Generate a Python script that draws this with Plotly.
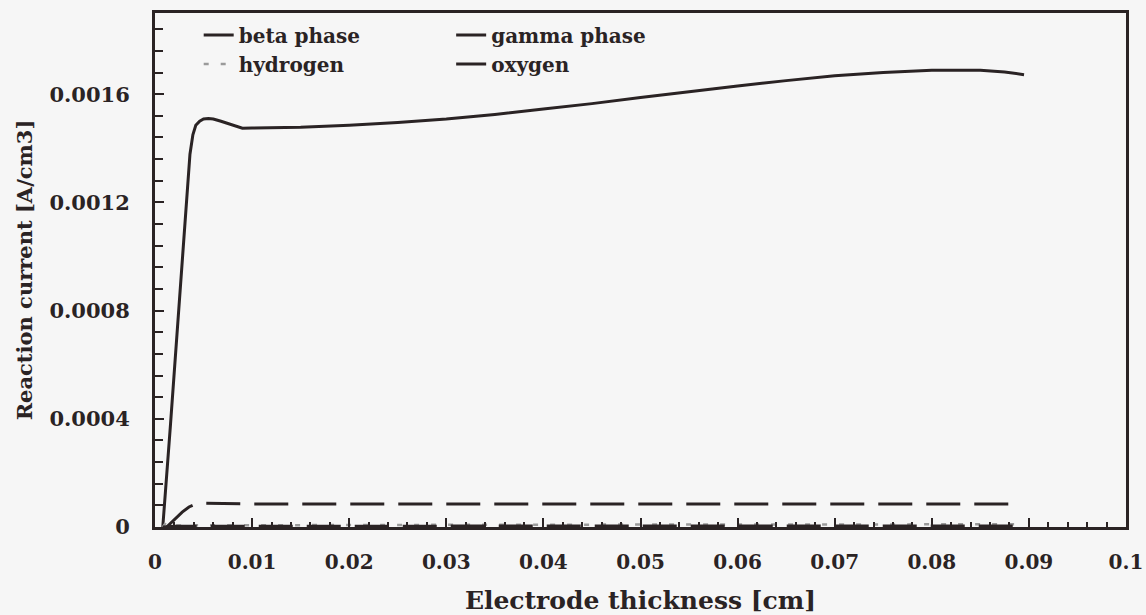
import plotly.graph_objects as go

# ---- data ----
beta_x = [0.0008, 0.0012, 0.0016, 0.0020, 0.0024, 0.0028, 0.0032, 0.0036, 0.0039, 0.0042,
          0.0046, 0.0050, 0.0055, 0.0060, 0.0068, 0.0076, 0.0084, 0.0090, 0.0100, 0.0150,
          0.0200, 0.0250, 0.0300, 0.0350, 0.0400, 0.0450, 0.0500, 0.0550, 0.0600, 0.0650,
          0.0700, 0.0750, 0.0800, 0.0850, 0.0875, 0.0895]
beta_y = [0.0, 0.000181, 0.000381, 0.000581, 0.000778, 0.000978, 0.001178, 0.001378, 0.00145, 0.001485,
          0.0015, 0.001508, 0.00151, 0.001508, 0.0015, 0.00149, 0.00148, 0.001474, 0.001475, 0.001478,
          0.001485, 0.001495, 0.001508, 0.001525, 0.001545, 0.001565, 0.001588, 0.00161, 0.00163, 0.00165,
          0.001668, 0.00168, 0.001688, 0.001688, 0.001682, 0.001672]

gamma_x = [0.0012, 0.0020, 0.0028, 0.0035, 0.0042, 0.0050, 0.0060, 0.0080, 0.0100, 0.0300, 0.0500, 0.0700, 0.0880]
gamma_y = [0.0, 0.000028, 0.000055, 0.000074, 0.000085, 0.000088, 0.000087, 0.000086, 0.000085, 0.000085, 0.000085, 0.000085, 0.000085]

hydrogen_x = [0.0008, 0.0012, 0.0016, 0.0020, 0.0030, 0.0100, 0.0300, 0.0500, 0.0700, 0.0895]
hydrogen_y = [0.0, 0.00002, 0.000012, 0.000006, 0.000006, 0.000007, 0.000008, 0.000009, 0.00001, 0.00001]

oxygen_x = [0.0008, 0.0020, 0.0100, 0.0500, 0.0895]
oxygen_y = [0.0, 0.000003, 0.000003, 0.000004, 0.000004]

x_tickvals = [0, 0.01, 0.02, 0.03, 0.04, 0.05, 0.06, 0.07, 0.08, 0.09, 0.1]
x_ticktext = ["0", "0.01", "0.02", "0.03", "0.04", "0.05", "0.06", "0.07", "0.08", "0.09", "0.1"]
y_tickvals = [0, 0.0004, 0.0008, 0.0012, 0.0016]
y_ticktext = ["0", "0.0004", "0.0008", "0.0012", "0.0016"]

# ---- styling ----
INK = "#2a2324"
BG = "#f6f6f6"
FONT = "DejaVu Serif"

fig = go.Figure()
fig.add_trace(go.Scatter(x=beta_x, y=beta_y, mode="lines", name="beta phase",
                         line=dict(color=INK, width=3), legend="legend"))
fig.add_trace(go.Scatter(x=hydrogen_x, y=hydrogen_y, mode="lines", name="hydrogen",
                         line=dict(color="#9a9a9a", width=2.5, dash="5px,12px"), legend="legend"))
fig.add_trace(go.Scatter(x=gamma_x, y=gamma_y, mode="lines", name="gamma phase",
                         line=dict(color=INK, width=3, dash="34px,14px"), legend="legend2"))
fig.add_trace(go.Scatter(x=oxygen_x, y=oxygen_y, mode="lines", name="oxygen",
                         line=dict(color=INK, width=3, dash="34px,14px"), legend="legend2"))

legend_common = dict(
    yanchor="top", y=0.995, xanchor="left",
    bgcolor="rgba(0,0,0,0)", borderwidth=0,
    font=dict(family=FONT, size=20, color=INK, weight="bold"),
    tracegroupgap=0, itemwidth=30,
)

fig.update_layout(
    width=1146, height=615,
    margin=dict(l=155, r=20, t=13, b=88),
    paper_bgcolor=BG, plot_bgcolor=BG,
    font=dict(family=FONT, color=INK, weight="bold"),
    showlegend=True,
    legend=dict(x=0.045, **legend_common),
    legend2=dict(x=0.305, **legend_common),
    xaxis=dict(
        range=[0, 0.1000001], tickvals=x_tickvals, ticktext=x_ticktext,
        ticks="inside", ticklen=9, tickwidth=2, tickcolor=INK,
        minor=dict(dtick=0.002, tick0=0, ticks="inside", ticklen=5, tickwidth=2, tickcolor=INK),
        showline=True, linecolor=INK, linewidth=3, mirror=True,
        showgrid=False, zeroline=False, automargin=False,
        ticklabeloverflow="allow",
        tickfont=dict(family=FONT, size=20, color=INK, weight="bold"),
        ticklabelstandoff=15,
        title=dict(text="Electrode thickness [cm]", standoff=21,
                   font=dict(family=FONT, size=25, color=INK, weight="bold")),
    ),
    yaxis=dict(
        range=[0, 0.0019], tickvals=y_tickvals, ticktext=y_ticktext,
        ticks="inside", ticklen=9, tickwidth=2, tickcolor=INK,
        minor=dict(dtick=0.00008, tick0=0, ticks="inside", ticklen=8, tickwidth=2, tickcolor=INK),
        showline=True, linecolor=INK, linewidth=3, mirror=True,
        showgrid=False, zeroline=False, automargin=False,
        tickfont=dict(family=FONT, size=21, color=INK, weight="bold"),
        ticklabelstandoff=18,
        title=dict(text="Reaction current [A/cm3]", standoff=12,
                   font=dict(family=FONT, size=21, color=INK, weight="bold")),
    ),
)

fig.write_html("out.html", config={"displayModeBar": False},
               post_script="document.body.style.margin='0';document.body.style.overflow='hidden';")
